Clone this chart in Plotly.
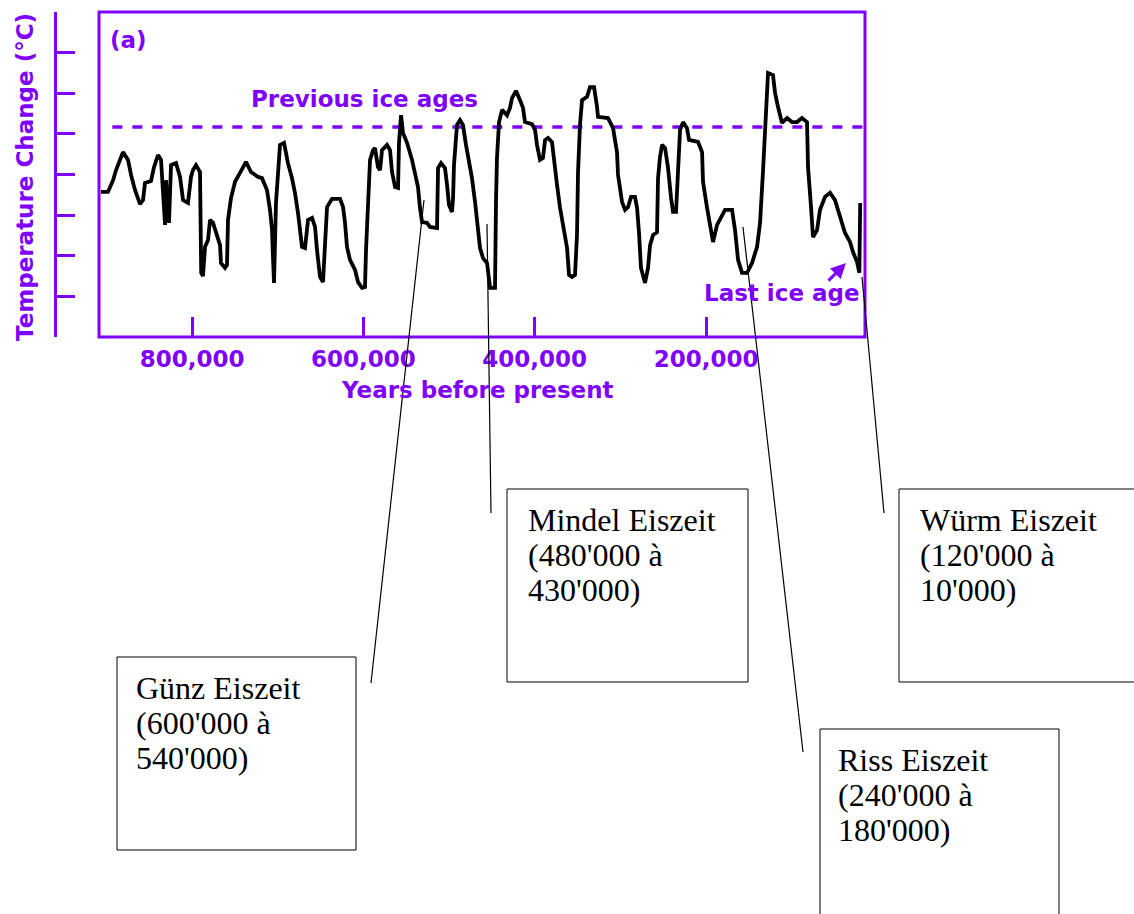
import plotly.graph_objects as go

W, H = 1134, 914
PURPLE = "#8000ff"

# ---------------- data ----------------
years_kyr = [
    906.3, 898.1, 892.2, 888.7, 880.6, 874.7, 871.2, 866.6, 860.7, 857.2, 854.9, 847.9, 844.4, 839.7, 836.2, 833.9,
    831.5, 830.4, 826.9, 824.5, 818.7, 814.0, 810.5, 804.7, 801.2, 798.9, 795.4, 790.7, 790.0, 789.3, 787.2, 784.8,
    781.3, 779.0, 775.5, 772.0, 767.3, 766.2, 761.5, 759.2, 758.0, 754.5, 749.8, 744.0, 737.0, 731.1, 723.0,
    718.3, 712.5, 709.0, 706.6, 705.5, 704.3, 702.0, 699.6, 697.3, 692.6, 688.0, 683.3, 679.8, 676.3, 671.6, 668.1,
    664.6, 659.9, 656.4, 654.1, 650.6, 647.1, 644.8, 642.4, 636.6, 627.2, 623.7, 621.4, 619.1, 615.6, 609.7, 606.2,
    601.6, 598.1, 596.9, 594.6, 592.2, 588.7, 586.4, 582.9, 580.5, 578.2, 572.4, 568.9, 566.5, 563.0, 559.5, 558.4,
    556.0, 553.7, 549.0, 543.2, 539.7,
    536.2, 533.9, 531.5, 525.7, 522.2, 514.0, 512.8, 509.3, 504.7, 502.3, 500.0, 496.5, 495.3, 494.2, 490.7, 487.2,
    483.7, 480.2, 476.6, 473.2, 469.6, 466.1, 463.8, 460.3, 455.6, 452.1, 446.3, 445.1, 444.0, 441.6, 438.1, 432.3,
    428.8, 426.5, 421.8, 417.1, 413.6, 411.3, 403.1, 399.6, 397.3, 393.8, 390.3, 387.9, 384.4, 379.8, 377.4, 373.9,
    370.4, 366.9, 362.2, 359.9,
    356.4, 352.9, 350.6, 349.4, 347.1, 344.7, 338.9, 335.4, 330.7, 327.2, 326.1, 314.4, 308.5, 303.9, 302.7, 298.0,
    294.5, 291.0, 287.5, 282.9, 280.5, 278.2, 275.9, 271.2, 267.7, 265.3, 261.8, 257.2, 256.0, 253.7, 251.3, 247.8,
    244.3, 240.8, 238.5, 235.0, 232.7, 230.3, 226.8, 222.2, 219.8, 209.3, 204.6, 203.5, 198.8, 195.3, 191.8, 187.1,
    181.3,
    177.8, 169.6, 166.1, 162.6, 158.0, 152.1, 146.3, 140.4, 136.9, 133.4, 131.1, 128.8, 127.6, 121.8, 119.4, 115.9,
    111.3, 105.4, 99.6, 93.7, 87.9, 82.1, 80.9, 77.4, 75.1, 70.4, 66.9, 61.1, 55.2, 49.4, 43.5, 37.7,
    31.9, 28.4, 23.7, 21.0, 20.0,
]
temp_change = [
    3.57, 3.57, 3.86, 4.11, 4.55, 4.36, 3.99, 3.62, 3.27, 3.37, 3.79, 3.84, 4.18, 4.48, 4.36, 3.37,
    2.76, 3.86, 2.81, 4.23, 4.28, 3.94, 3.37, 3.30, 3.94, 4.11, 4.23, 4.06, 2.88, 1.58, 1.50, 2.22,
    2.39, 2.88, 2.81, 2.56, 2.26, 1.82, 1.70, 1.77, 2.88, 3.42, 3.82, 4.04, 4.31, 4.06, 3.94,
    3.91, 3.62, 3.13, 2.63, 1.97, 1.33, 3.30, 3.94, 4.73, 4.78, 4.28, 3.91, 3.54, 3.05, 2.22, 2.19,
    2.88, 2.93, 2.71, 2.14, 1.48, 1.35, 2.22, 3.20, 3.40, 3.40, 3.20, 2.81, 2.22, 1.90, 1.65, 1.35,
    1.21, 1.23, 2.14, 3.37, 4.36, 4.60, 4.65, 4.18, 4.11, 4.60, 4.73, 4.60, 4.06, 3.69, 3.67, 4.78,
    5.46, 5.02, 4.78, 4.36, 3.99,
    3.69, 3.18, 2.83, 2.81, 2.71, 2.68, 4.16, 4.28, 4.16, 3.74, 3.25, 3.08, 3.42, 4.23, 5.22, 5.34,
    5.22, 4.73, 4.31, 3.91, 3.32, 2.58, 2.19, 1.94, 1.82, 1.21, 1.21, 3.42, 4.41, 5.29, 5.59, 5.46,
    5.64, 5.88, 6.06, 5.83, 5.64, 5.29, 5.24, 5.10, 4.73, 4.36, 4.41, 4.85, 4.90, 4.80, 4.31, 3.74,
    3.18, 2.76, 2.19, 1.53,
    1.48, 1.53, 2.51, 4.06, 5.22, 5.83, 5.91, 6.15, 6.15, 5.66, 5.42, 5.39, 5.14, 4.55, 3.99, 3.32,
    3.13, 3.20, 3.45, 3.45, 3.18, 2.56, 1.70, 1.33, 1.70, 2.26, 2.51, 2.58, 3.91, 4.43, 4.73, 4.65,
    4.16, 3.42, 3.08, 3.08, 4.31, 5.10, 5.29, 5.14, 4.85, 4.80, 4.55, 3.82, 3.18, 2.68, 2.34, 2.76,
    3.00,
    3.13, 3.13, 2.63, 1.90, 1.58, 1.58, 1.82, 2.22, 2.81, 4.11, 5.27, 6.08, 6.50, 6.45, 6.01, 5.66,
    5.27, 5.39, 5.29, 5.29, 5.39, 5.29, 4.18, 3.20, 2.46, 2.63, 3.13, 3.45, 3.55, 3.37, 2.95, 2.56,
    2.34, 2.09, 1.85, 1.58, 3.30,
]

ice_age_level = 5.17            # dashed "previous ice ages" level
ice_line_kyr = [893.0, 17.0]    # extent of the dashed line

x_tick_years = [800000, 600000, 400000, 200000]
x_tick_text = ["800,000", "600,000", "400,000", "200,000"]
y_tick_vals = [0, 1, 2, 3, 4, 5, 6, 7, 8]

callouts = [
    ["Günz Eiszeit", "(600'000 à", "540'000)"],
    ["Mindel Eiszeit", "(480'000 à", "430'000)"],
    ["Riss Eiszeit", "(240'000 à", "180'000)"],
    ["Würm Eiszeit", "(120'000 à", "10'000)"],
]

# ---------------- layout geometry (pixels) ----------------
def px(x):
    return x / W

def py(y):
    return 1 - y / H

box_rects = [(117, 657, 356, 850), (507, 489, 748, 682), (820, 729, 1059, 930), (899, 489, 1150, 682)]
box_text_xy = [(134, 688), (526, 520), (836, 760), (918, 520)]
line_gap = 35
leaders = [((371, 683), (424, 200)), ((491, 513), (487, 224)), ((803, 752), (743, 227)), ((884, 513), (862, 277))]

fig = go.Figure()

fig.add_trace(go.Scatter(
    x=[k * 1000 for k in ice_line_kyr], y=[ice_age_level, ice_age_level],
    mode="lines", line=dict(color=PURPLE, width=3.5, dash="10px,10px"), hoverinfo="skip"))

fig.add_trace(go.Scatter(
    x=[k * 1000 for k in years_kyr], y=temp_change,
    mode="lines", line=dict(color="black", width=3.8), hoverinfo="skip"))

tfont = dict(family="DejaVu Sans", size=23, color=PURPLE)

fig.update_layout(
    width=W, height=H,
    margin=dict(l=0, r=0, t=0, b=0),
    paper_bgcolor="white", plot_bgcolor="white",
    showlegend=False,
    xaxis=dict(
        domain=[px(99), px(865)], range=[908600, 14400],
        tickvals=x_tick_years, ticktext=["<b>%s</b>" % t for t in x_tick_text],
        ticks="inside", ticklen=20, tickwidth=3, tickcolor=PURPLE,
        ticklabelstandoff=6,
        tickfont=tfont, showline=False, showgrid=False, zeroline=False,
        anchor="y",
    ),
    yaxis=dict(
        domain=[py(337), py(12)], range=[0, 8],
        anchor="free", position=px(55),
        tickvals=y_tick_vals, showticklabels=False,
        ticks="inside", ticklen=18, tickwidth=3, tickcolor=PURPLE,
        showline=True, linewidth=3, linecolor=PURPLE,
        showgrid=False, zeroline=False,
    ),
)

# plot frame
fig.add_shape(type="rect", xref="x domain", yref="y domain", x0=0, x1=1, y0=0, y1=1,
              line=dict(color=PURPLE, width=3))

# axis titles and chart labels
fig.add_annotation(xref="paper", yref="paper", x=px(477), y=py(390), text="<b>Years before present</b>",
                   showarrow=False, font=tfont, xanchor="center", yanchor="middle")
fig.add_annotation(xref="paper", yref="paper", x=px(25), y=py(177), text="<b>Temperature Change (°C)</b>",
                   showarrow=False, font=tfont, textangle=-90, xanchor="center", yanchor="middle")
fig.add_annotation(x=873600, y=7.31, text="<b>(a)</b>", showarrow=False, font=tfont)
fig.add_annotation(x=599200, y=5.86, text="<b>Previous ice ages</b>", showarrow=False, font=tfont)
fig.add_annotation(x=111300, y=1.08, text="<b>Last ice age</b>", showarrow=False, font=tfont)
fig.add_annotation(x=36600, y=1.82, ax=58800, ay=1.35, axref="x", ayref="y", text="",
                   showarrow=True, arrowhead=2, arrowsize=1, arrowwidth=3, arrowcolor=PURPLE)

# callout boxes with leader lines
for (x0, y0, x1, y1), (tx, ty), ((lx0, ly0), (lx1, ly1)), lines in zip(box_rects, box_text_xy, leaders, callouts):
    fig.add_shape(type="rect", xref="paper", yref="paper", x0=px(x0), x1=px(x1), y0=py(y1), y1=py(y0),
                  line=dict(color="black", width=1), fillcolor="white", layer="above")
    fig.add_shape(type="line", xref="paper", yref="paper", x0=px(lx0), y0=py(ly0), x1=px(lx1), y1=py(ly1),
                  line=dict(color="black", width=1.2), layer="above")
    for i, t in enumerate(lines):
        fig.add_annotation(xref="paper", yref="paper", x=px(tx), y=py(ty + i * line_gap), text=t,
                           showarrow=False, xanchor="left", yanchor="middle",
                           font=dict(family="Liberation Serif", size=32, color="black"))

fig.write_html("out.html", config={"displayModeBar": False},
               post_script="document.body.style.margin='0';document.body.style.overflow='hidden';")
